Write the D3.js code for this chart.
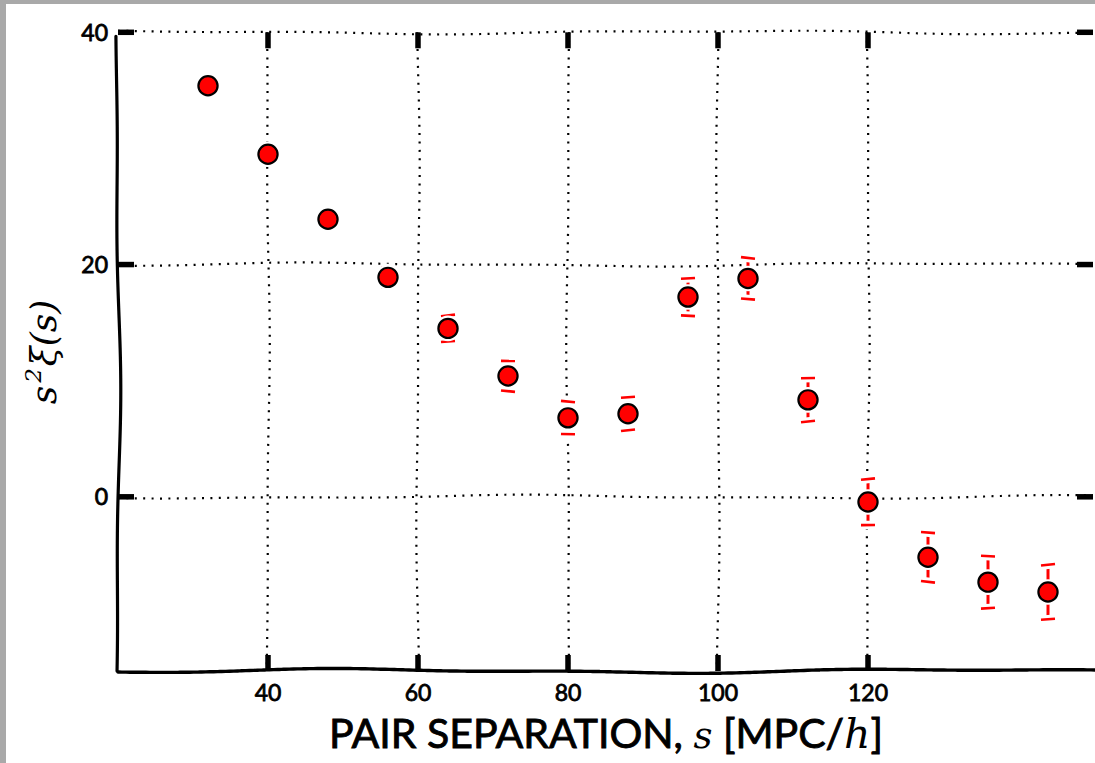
<!DOCTYPE html>
<html>
<head>
<meta charset="utf-8">
<script src="https://cdn.jsdelivr.net/npm/d3@7"></script>
<style>
  html, body { margin: 0; padding: 0; background: #ffffff; }
  svg { display: block; }
  .hand { font-family: "Humor Sans", "Comic Sans MS", Lato, "Open Sans", sans-serif; stroke: #000; paint-order: stroke; }
  .math { font-family: "DejaVu Serif", "Liberation Serif", serif; font-style: italic; stroke: none; }
</style>
</head>
<body>
<svg id="chart" width="1095" height="763"></svg>
<script>
// Separation bins (Mpc/h) and s^2 xi(s) with 1-sigma errors
const separation = [32, 40, 48, 56, 64, 72, 80, 88, 96, 104, 112, 120, 128, 136, 144];
const s2xi       = [35.4, 29.5, 23.9, 18.9, 14.5, 10.4, 6.8, 7.15, 17.2, 18.8, 8.35, -0.45, -5.2, -7.35, -8.2];
const s2xiErr    = [0.5, 0.6, 0.7, 0.8, 1.12, 1.3, 1.4, 1.42, 1.61, 1.77, 1.87, 1.98, 2.12, 2.24, 2.35];
const xTicks = [40, 60, 80, 100, 120];
const yTicks = [0, 20, 40];

const W = 1095, H = 763;
const svg = d3.select("#chart");

// paper with a grey border at the top and left
svg.append("rect").attr("width", W).attr("height", H).attr("fill", "#a9a9a9");
svg.append("rect").attr("x", 6).attr("y", 4).attr("width", W - 6).attr("height", H - 4).attr("fill", "#ffffff");

const x = d3.scaleLinear().domain([20, 150]).range([118, 1093]);
const y = d3.scaleLinear().domain([-15, 40]).range([671, 32.3]);

// hand-drawn looking line: small smooth perpendicular wobble along a segment
function wobble(x1, y1, x2, y2, amp, seed) {
  const L = Math.hypot(x2 - x1, y2 - y1);
  const n = Math.max(2, Math.ceil(L / 4));
  const nx = -(y2 - y1) / L, ny = (x2 - x1) / L;
  const pts = [];
  for (let i = 0; i <= n; i++) {
    const t = i / n, d = t * L;
    const o = amp * (0.65 * Math.sin(d / 95 + seed) + 0.35 * Math.sin(d / 41 + 2.7 * seed));
    pts.push([x1 + (x2 - x1) * t + nx * o, y1 + (y2 - y1) * t + ny * o]);
  }
  return d3.line().curve(d3.curveBasis)(pts);
}

const g = svg.append("g");

// dotted grid
const grid = g.append("g");
xTicks.forEach((v, i) => {
  grid.append("path").attr("d", wobble(x(v), y(40), x(v), y(-15), 1.8, 1.3 + i * 1.7))
    .attr("fill", "none").attr("stroke", "#000").attr("stroke-width", 2.2)
    .attr("stroke-dasharray", "2 6.4");
});
yTicks.forEach((v, i) => {
  grid.append("path").attr("d", wobble(x(20), y(v), x(150), y(v), 2.2, 0.4 + i * 2.1))
    .attr("fill", "none").attr("stroke", "#000").attr("stroke-width", 2.2)
    .attr("stroke-dasharray", "2 6.4");
});

// spines (left and bottom only)
g.append("path").attr("d", wobble(x(20), y(40) + 4, x(20), y(-15), 2.8, 0.9))
  .attr("fill", "none").attr("stroke", "#000").attr("stroke-width", 3.2).attr("stroke-linecap", "round");
g.append("path").attr("d", wobble(x(20), y(-15), W + 4, y(-15), 2.6, 2.2))
  .attr("fill", "none").attr("stroke", "#000").attr("stroke-width", 3.4).attr("stroke-linecap", "round");

// inward ticks on all four sides
const tickLen = 16, tickW = 5.5;
const ticks = g.append("g").attr("stroke", "#000").attr("stroke-width", tickW);
xTicks.forEach(v => {
  ticks.append("line").attr("x1", x(v)).attr("x2", x(v)).attr("y1", y(-15)).attr("y2", y(-15) - tickLen);
  ticks.append("line").attr("x1", x(v)).attr("x2", x(v)).attr("y1", y(40)).attr("y2", y(40) + tickLen);
});
yTicks.forEach(v => {
  ticks.append("line").attr("x1", x(20)).attr("x2", x(20) + tickLen).attr("y1", y(v)).attr("y2", y(v));
  ticks.append("line").attr("x1", x(150)).attr("x2", x(150) - tickLen).attr("y1", y(v)).attr("y2", y(v));
});

// tick labels
g.append("g").selectAll("text").data(xTicks).join("text")
  .attr("class", "hand").attr("stroke-width", 0.8).attr("x", d => x(d)).attr("y", 701)
  .attr("text-anchor", "middle").attr("font-size", 23).text(d => d);
g.append("g").selectAll("text").data(yTicks).join("text")
  .attr("class", "hand").attr("stroke-width", 0.8).attr("x", 108).attr("y", d => y(d)).attr("dy", "0.36em")
  .attr("text-anchor", "end").attr("font-size", 23).text(d => d);

// error bars: vertical bar, then caps, each with a white halo
const eb = g.append("g");
const halo = 3;
separation.forEach((s, i) => {
  const cx = x(s), top = y(s2xi[i] + s2xiErr[i]), bot = y(s2xi[i] - s2xiErr[i]);
  [["#fff", 3 + 2 * halo], ["#ff0000", 3]].forEach(([c, w]) => {
    eb.append("line").attr("x1", cx).attr("x2", cx).attr("y1", top).attr("y2", bot)
      .attr("stroke", c).attr("stroke-width", w);
  });
  [top, bot].forEach((cy, k) => {
    const a = 0.8 * Math.sin(i * 1.9 + k);
    [["#fff", 2.6 + 2 * halo], ["#ff0000", 2.6]].forEach(([c, w]) => {
      eb.append("line").attr("x1", cx - 7).attr("x2", cx + 7).attr("y1", cy + a).attr("y2", cy - a)
        .attr("stroke", c).attr("stroke-width", w);
    });
  });
});

// markers
const mk = g.append("g");
mk.selectAll("circle.halo").data(separation).join("circle").attr("class", "halo")
  .attr("cx", d => x(d)).attr("cy", (d, i) => y(s2xi[i])).attr("r", 12.8).attr("fill", "#fff");
mk.selectAll("circle.pt").data(separation).join("circle").attr("class", "pt")
  .attr("cx", d => x(d)).attr("cy", (d, i) => y(s2xi[i])).attr("r", 9.6)
  .attr("fill", "#ff0000").attr("stroke", "#000").attr("stroke-width", 2.2);

// axis labels
const xl = g.append("text").attr("class", "hand").attr("stroke-width", 0.9)
  .attr("x", 606).attr("y", 748).attr("text-anchor", "middle").attr("font-size", 41);
xl.append("tspan").text("PAIR SEPARATION, ");
xl.append("tspan").attr("class", "math").attr("font-size", 37).text("s");
xl.append("tspan").text(" [MPC/");
xl.append("tspan").attr("class", "math").attr("font-size", 41).text("h");
xl.append("tspan").text("]");

const yl = g.append("text").attr("class", "math")
  .attr("transform", `translate(56, ${352}) rotate(-90)`)
  .attr("text-anchor", "middle").attr("font-size", 36);
yl.append("tspan").text("s");
yl.append("tspan").attr("font-size", 23).attr("dx", 3).attr("dy", -15).text("2");
yl.append("tspan").attr("dx", 2).attr("dy", 15).text("ξ(s)");
</script>
</body>
</html>
